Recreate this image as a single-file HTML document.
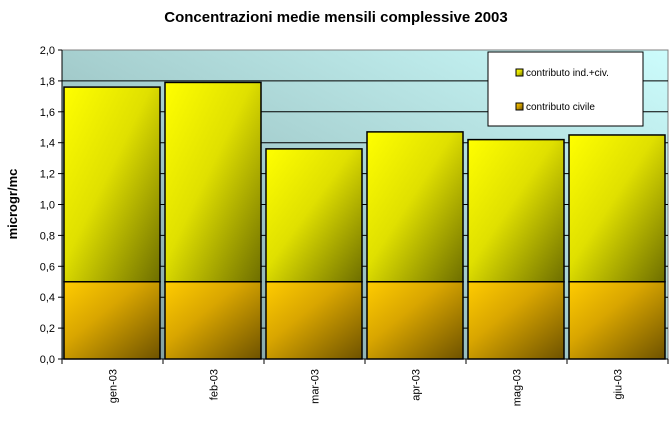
<!DOCTYPE html>
<html><head><meta charset="utf-8"><style>
body{margin:0;background:#fff;font-family:"Liberation Sans",Arial,sans-serif}
</style></head><body>
<svg width="672" height="422" xmlns="http://www.w3.org/2000/svg">
<defs>
<linearGradient id="bg" x1="0" y1="1" x2="1" y2="0">
<stop offset="0" stop-color="#7d9999"/><stop offset="0.5" stop-color="#a6cfcf"/><stop offset="1" stop-color="#ccfcfc"/></linearGradient>
<linearGradient id="gy" x1="0" y1="0" x2="1" y2="1">
<stop offset="0" stop-color="#ffff00"/><stop offset="0.45" stop-color="#e0e000"/><stop offset="1" stop-color="#6e6e00"/></linearGradient>
<linearGradient id="go" x1="0" y1="0" x2="1" y2="1">
<stop offset="0" stop-color="#ffcc00"/><stop offset="0.4" stop-color="#d9a600"/><stop offset="1" stop-color="#6e5200"/></linearGradient>
</defs>
<text x="336" y="22" text-anchor="middle" font-size="15" font-weight="bold">Concentrazioni medie mensili complessive 2003</text>
<rect x="62" y="50" width="606" height="309" fill="url(#bg)" stroke="#808080"/>
<g id="grid"></g><g id="bars"></g><g id="axes"></g>
<text transform="translate(17,204) rotate(-90)" text-anchor="middle" font-size="13" font-weight="bold">microgr/mc</text>
<g>
<rect x="488" y="52" width="155" height="74" fill="#fff" stroke="#000"/>
<rect x="516" y="69" width="7" height="7" fill="url(#gy)" stroke="#000"/>
<text x="526" y="76" font-size="10">contributo ind.+civ.</text>
<rect x="516" y="103" width="7" height="7" fill="url(#go)" stroke="#000"/>
<text x="526" y="110" font-size="10">contributo civile</text>
</g>
</svg>
<script>
const categories=["gen-03","feb-03","mar-03","apr-03","mag-03","giu-03"];
const civile=[0.5,0.5,0.5,0.5,0.5,0.5];
const indCiv=[1.26,1.29,0.86,0.97,0.92,0.95];
const yTicks=["0,0","0,2","0,4","0,6","0,8","1,0","1,2","1,4","1,6","1,8","2,0"];
const NS="http://www.w3.org/2000/svg";
const X0=62,X1=668,Y0=359,Y1=50,YMAX=2.0;
const y=v=>Y0-(v/YMAX)*(Y0-Y1);
const cw=(X1-X0)/categories.length;
const xb=i=>X0+i*cw;
function mk(t,a,p){const e=document.createElementNS(NS,t);for(const k in a)e.setAttribute(k,a[k]);p.appendChild(e);return e;}
const grid=document.getElementById('grid'),bars=document.getElementById('bars'),axes=document.getElementById('axes');
yTicks.forEach((l,i)=>{const v=i*0.2,yy=y(v);
 if(i>0&&i<yTicks.length-1){const g=mk('line',{x1:X0,x2:X1,y1:yy,y2:yy,stroke:'#000'},grid);
 
 }
 const t=mk('line',{x1:X0-4,x2:X0,y1:yy,y2:yy,stroke:'#000'},axes);
 const tx=mk('text',{x:X0-7,y:yy+4,'text-anchor':'end','font-size':'11'},axes);tx.textContent=l;
 
 
});
categories.forEach((c,i)=>{const bx=xb(i)+2,bw=cw-5;
 const r1=mk('rect',{x:bx,y:y(civile[i]),width:bw,height:y(0)-y(civile[i]),fill:'url(#go)',stroke:'#000','stroke-width':1.5},bars);
 
 
 const top=civile[i]+indCiv[i];
 const r2=mk('rect',{x:bx,y:y(top),width:bw,height:y(civile[i])-y(top),fill:'url(#gy)',stroke:'#000','stroke-width':1.5},bars);
 
 
 mk('line',{x1:xb(i),x2:xb(i),y1:Y0,y2:Y0+5,stroke:'#000'},axes);
 const cx=xb(i)+cw/2;
 const t=mk('text',{transform:`translate(${cx+4},${Y0+10}) rotate(-90)`,'text-anchor':'end','font-size':'11'},axes);t.textContent=c;
 
 
});
mk('line',{x1:X1,x2:X1,y1:Y0,y2:Y0+5,stroke:'#000'},axes);
mk('line',{x1:X0,x2:X0,y1:Y1,y2:Y0,stroke:'#000'},axes);
mk('line',{x1:X0,x2:X1,y1:Y0,y2:Y0,stroke:'#000'},axes);
</script>
</body></html>
